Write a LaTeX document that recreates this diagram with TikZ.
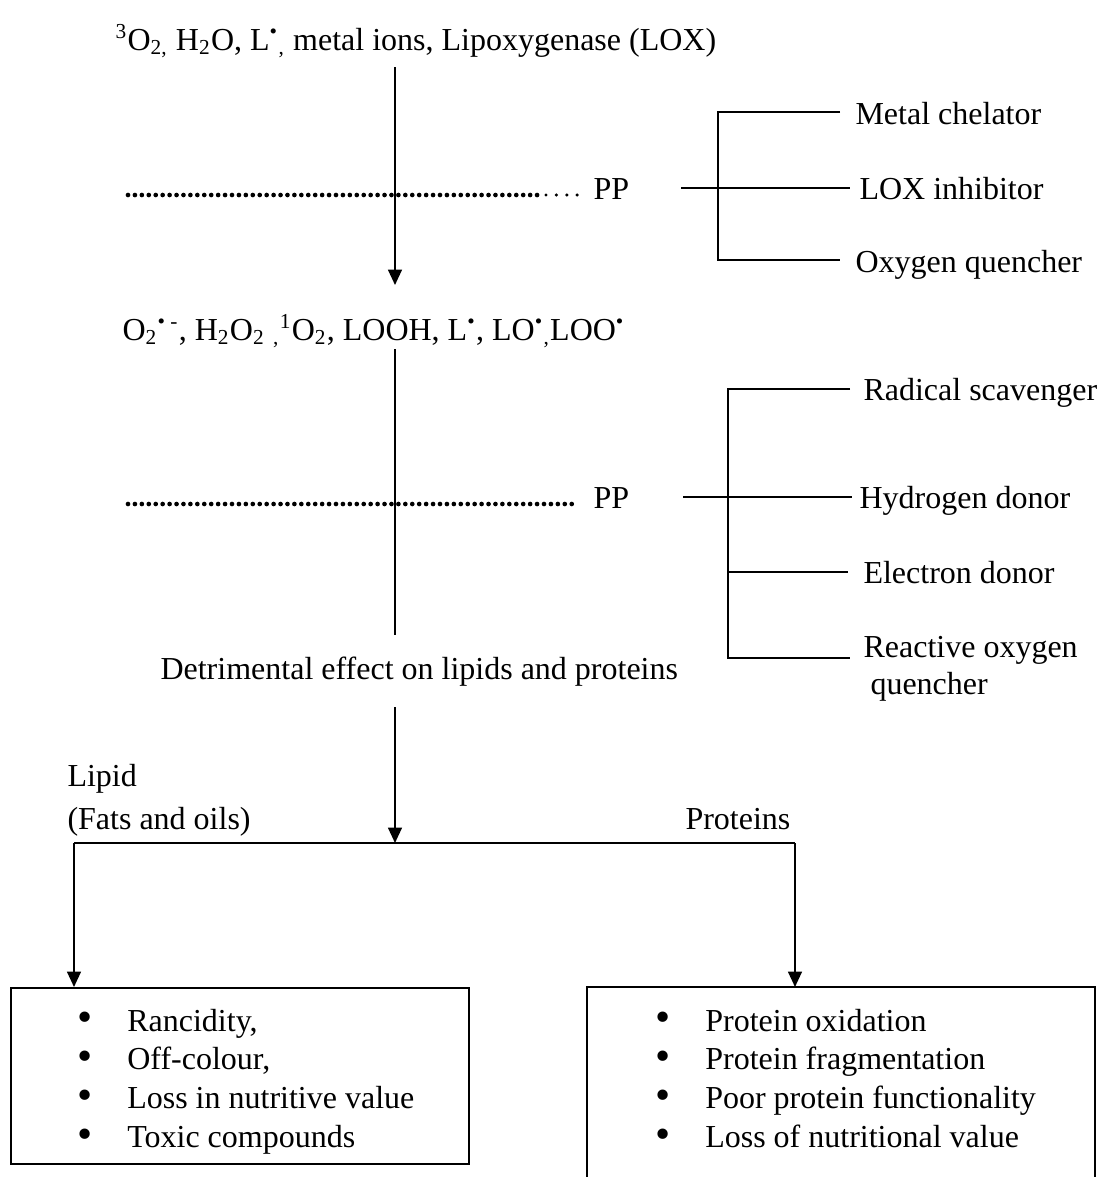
\documentclass[tikz,border=0pt]{standalone}
\usepackage{fontspec}
\setmainfont{Liberation Serif}
\usetikzlibrary{arrows.meta}
\newcommand\bigbul{\raisebox{-0.02em}{\scalebox{1.35}{•}}}
\begin{document}
\begin{tikzpicture}[x=0.375pt,y=-0.375pt,
  every node/.style={font=\fontsize{12}{14.6}\selectfont, inner sep=0pt},
  ln/.style={line width=0.75pt},
  arr/.style={line width=0.75pt,-{Triangle[length=5.8pt,width=5.2pt]}},
  dotline/.style={line width=1.75pt, line cap=round, dash pattern=on 0pt off 2.6pt},
  sparseline/.style={line width=1.3pt, line cap=round, dash pattern=on 0pt off 3.9pt},
  lbl/.style={anchor=base west}]
\useasboundingbox (0,0) rectangle (1101,1177);

% top reactants
\node[lbl] (src) at (115,50) {\textsuperscript{3}O\textsubscript{2,} H\textsubscript{2}O, L\textsuperscript{•}\textsubscript{,} metal ions, Lipoxygenase (LOX)};
\coordinate (a1s) at (395,67);
\coordinate (a1e) at (395,285);
\draw[arr] (a1s) -- (a1e);

% first PP line
\coordinate (d1a) at (128,195);
\coordinate (d1b) at (538,195);
\coordinate (d1c) at (546,195);
\coordinate (d1d) at (579,195);
\draw[dotline] (d1a) -- (d1b);
\draw[sparseline] (d1c) -- (d1d);
\node[lbl] (pp1) at (593,199) {PP};

% bracket 1
\coordinate (s1) at (681,188);
\coordinate (e1m) at (850,188);
\coordinate (v1t) at (718,112);
\coordinate (v1b) at (718,260);
\coordinate (e1t) at (840,112);
\coordinate (e1b) at (840,260);
\draw[ln] (s1) -- (e1m);
\draw[ln] (e1t) -- (v1t) -- (v1b) -- (e1b);
\node[lbl] (mc) at (855,124) {Metal chelator};
\node[lbl] (lox) at (859,199) {LOX inhibitor};
\node[lbl] (oq) at (855,272) {Oxygen quencher};

% intermediates
\node[lbl] (mid) at (122,340) {O\textsubscript{2}\textsuperscript{• -}, H\textsubscript{2}O\textsubscript{2} \textsubscript{,}\textsuperscript{1}O\textsubscript{2}, LOOH, L\textsuperscript{•}, LO\textsuperscript{•}\textsubscript{,}LOO\textsuperscript{•}};
\coordinate (l2s) at (395,349);
\coordinate (l2e) at (395,635);
\draw[ln] (l2s) -- (l2e);

% second PP line
\coordinate (d2a) at (128,504);
\coordinate (d2b) at (578,504);
\draw[dotline] (d2a) -- (d2b);
\node[lbl] (pp2) at (593,508) {PP};

% bracket 2
\coordinate (s2) at (683,497);
\coordinate (e2h) at (852,497);
\coordinate (v2t) at (728,389);
\coordinate (v2e) at (728,572);
\coordinate (v2b) at (728,658);
\coordinate (e2t) at (850,389);
\coordinate (e2e) at (848,572);
\coordinate (e2b) at (850,658);
\draw[ln] (s2) -- (e2h);
\draw[ln] (e2t) -- (v2t) -- (v2b) -- (e2b);
\draw[ln] (v2e) -- (e2e);
\node[lbl] (rs) at (863,400) {Radical scavenger};
\node[lbl] (hd) at (859,508) {Hydrogen donor};
\node[lbl] (ed) at (863,583) {Electron donor};
\node[lbl] (ro1) at (863,657) {Reactive oxygen};
\node[lbl] (ro2) at (870,694) {quencher};

% detrimental effect
\node[lbl] (det) at (160,679) {Detrimental effect on lipids and proteins};
\coordinate (a3s) at (395,707);
\coordinate (jm) at (395,843);
\draw[arr] (a3s) -- (jm);

\node[lbl] (lip) at (67,786) {Lipid};
\node[lbl] (fats) at (67,829) {(Fats and oils)};
\node[lbl] (prot) at (685,829) {Proteins};

\coordinate (jl) at (74,843);
\coordinate (jr) at (795,843);
\draw[ln] (jl) -- (jr);

% boxes
\node[draw, line width=0.75pt, anchor=north west, minimum width=458*0.375pt, minimum height=176*0.375pt] (lbox) at (10,987) {};
\node[anchor=north west, minimum width=507*0.375pt, minimum height=190*0.375pt] (rbox) at (587,987) {};
\draw[ln] (rbox.south west) -- (rbox.north west) -- (rbox.north east) -- (rbox.south east);

\draw[arr] (jl) -- (jl |- lbox.north);
\draw[arr] (jr) -- (jr |- rbox.north);

\node[anchor=base west] (llist) at (77,1031) {\begin{tabular}[t]{@{}l@{\hspace{13pt}}l@{}}
\bigbul & Rancidity,\\
\bigbul & Off-colour,\\
\bigbul & Loss in nutritive value\\
\bigbul & Toxic compounds
\end{tabular}};
\node[anchor=base west] (rlist) at (655,1031) {\begin{tabular}[t]{@{}l@{\hspace{13pt}}l@{}}
\bigbul & Protein oxidation\\
\bigbul & Protein fragmentation\\
\bigbul & Poor protein functionality\\
\bigbul & Loss of nutritional value
\end{tabular}};
\end{tikzpicture}
\end{document}
